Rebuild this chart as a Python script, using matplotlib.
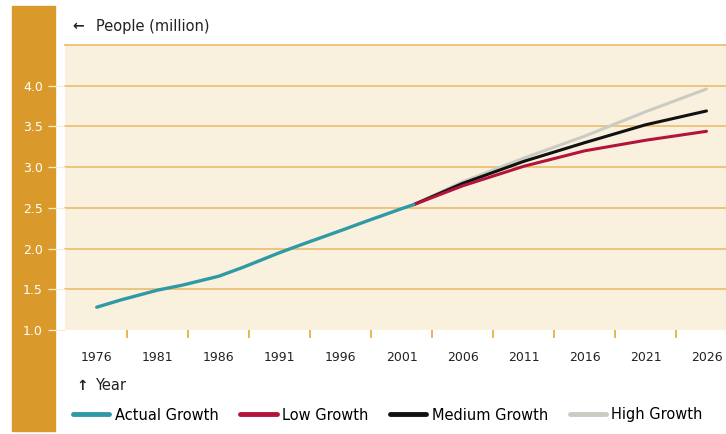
import matplotlib.pyplot as plt
from matplotlib.patches import Rectangle

# Actual and projected population (million)
actual_years = [1976, 1978, 1981, 1983, 1986, 1988, 1991, 1993, 1996, 1998, 2001, 2002]
actual_values = [1.28, 1.37, 1.49, 1.55, 1.66, 1.77, 1.95, 2.06, 2.22, 2.33, 2.49, 2.54]

proj_years = [2002, 2006, 2011, 2016, 2021, 2026]
low_values = [2.54, 2.77, 3.01, 3.20, 3.33, 3.44]
medium_values = [2.54, 2.80, 3.07, 3.30, 3.52, 3.69]
high_values = [2.54, 2.82, 3.11, 3.38, 3.68, 3.96]

year_labels = [1976, 1981, 1986, 1991, 1996, 2001, 2006, 2011, 2016, 2021, 2026]
y_ticks = [1.0, 1.5, 2.0, 2.5, 3.0, 3.5, 4.0]

orange = '#D99A2B'
grid_c = '#EEC47C'
bg = '#FAF0DE'

plt.rcParams['font.family'] = ['DejaVu Sans']

W, H = 726, 434
fig = plt.figure(figsize=(W / 100, H / 100), dpi=100)

# orange side bar
fig.patches.append(Rectangle((12 / W, 1 - 431 / H), 43 / W, 425 / H,
                             transform=fig.transFigure, color=orange, zorder=-5))

ax = fig.add_axes([65 / W, 1 - 330 / H, 1 - 65 / W, 285 / H])
ax.set_facecolor(bg)
ax.set_xlim(1973.4, 2027.6)
ax.set_ylim(1.0, 4.5)

for v in y_ticks[1:] + [4.5]:
    ax.axhline(v, color=grid_c, lw=1.4, zorder=1, clip_on=False)

ax.plot(proj_years, high_values, color='#C9CCC2', lw=2.2, solid_capstyle='round', zorder=3, label='High Growth')
ax.plot(proj_years, medium_values, color='#111111', lw=2.2, solid_capstyle='round', zorder=4, label='Medium Growth')
ax.plot(proj_years, low_values, color='#B3143C', lw=2.2, solid_capstyle='round', zorder=5, label='Low Growth')
ax.plot(actual_years, actual_values, color='#2F9AA5', lw=2.4, solid_capstyle='round', zorder=6, label='Actual Growth')

for s in ax.spines.values():
    s.set_visible(False)

# y axis: white labels inside the orange bar
ax.set_yticks(y_ticks)
ax.set_yticklabels([f'{v:.1f}' for v in y_ticks])
ax.tick_params(axis='y', length=12.3, width=0.9, color='#FBEBD0', pad=3.6,
               labelcolor='white', labelsize=9)

# x axis: labels at years, orange ticks in between
ax.set_xticks(year_labels)
ax.set_xticklabels([str(y) for y in year_labels])
ax.set_xticks([y + 2.5 for y in year_labels[:-1]], minor=True)
ax.tick_params(axis='x', which='major', length=0, pad=15, labelsize=9, labelcolor='#222222')
ax.tick_params(axis='x', which='minor', length=6, width=1.2, color='#E8A83A')

fig.text(72 / W, 1 - 26 / H, '\u2190', fontsize=10, fontweight='bold', va='center', color='#222222')
fig.text(96 / W, 1 - 26 / H, 'People (million)', fontsize=10.5, va='center', color='#222222')
fig.text(76 / W, 1 - 386 / H, '\u2191', fontsize=10, fontweight='bold', va='center', color='#222222')
fig.text(95 / W, 1 - 386 / H, 'Year', fontsize=10.5, va='center', color='#222222')

h, l = ax.get_legend_handles_labels()
order = [3, 2, 1, 0]
leg = fig.legend([h[i] for i in order], [l[i] for i in order], loc='center left',
                 bbox_to_anchor=(73 / W, 1 - 415 / H), ncol=4, frameon=False,
                 fontsize=10.5, handlelength=2.5, handletextpad=0.35, columnspacing=1.5,
                 borderpad=0, borderaxespad=0)
for ln in leg.get_lines():
    ln.set_linewidth(3.5)

fig.savefig('out.png', dpi=100)
